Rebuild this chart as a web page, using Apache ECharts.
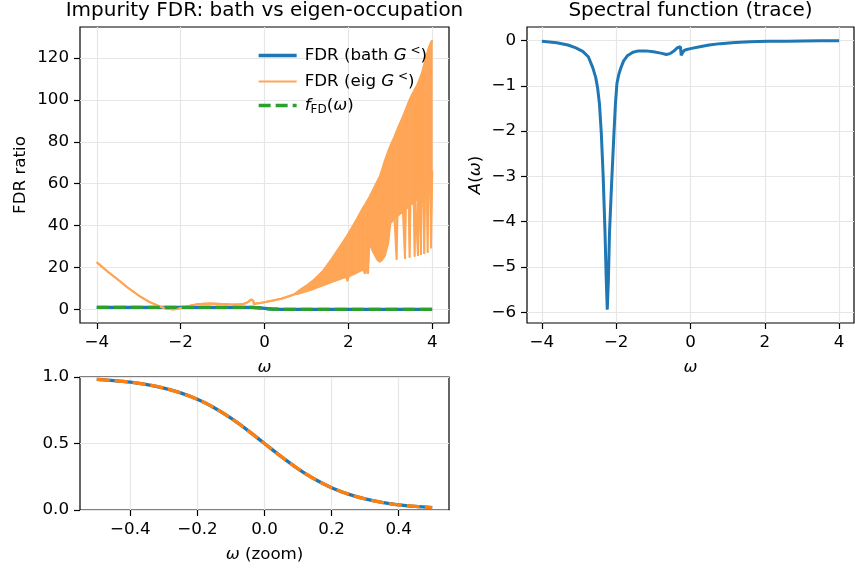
<!DOCTYPE html>
<html><head><meta charset="utf-8">
<script src="https://cdn.jsdelivr.net/npm/echarts@6/dist/echarts.min.js"></script>
<style>html,body{margin:0;padding:0;background:#fff}#c{width:855px;height:569px}</style>
</head><body><div id="c"></div>
<script>
// ---------- data ----------
const omegaEig = [-4.0,-3.75,-3.5,-3.25,-3.0,-2.75,-2.5,-2.35,-2.2,-2.05,-1.9,-1.75,-1.6,-1.45,-1.3,-1.15,-1.0,-0.85,-0.7,-0.55,-0.45,-0.38,-0.33,-0.3,-0.27,-0.25,-0.2,-0.1,0.0,0.2,0.4,0.6,0.7,
  0.8,0.9,1.0,1.2,1.4,1.6,1.8,1.95,1.98,2.01,2.2,2.35,2.4,2.44,2.47,2.5,2.6,2.7,2.75,2.8,2.87,2.95,3.0,3.1,3.13,3.15,3.17,3.3,3.33,3.35,3.37,3.44,3.46,3.48,3.56,3.58,3.6,3.64,3.66,3.68,3.71,3.73,3.75,3.79,3.81,3.83,3.87,3.89,3.91,3.95,3.97,4.0];
const eigLower = [22.5,18.2,14.3,10.2,6.6,3.6,1.4,0.4,0.0,0.3,1.1,1.9,2.4,2.7,2.8,2.7,2.6,2.4,2.3,2.4,2.9,3.7,4.6,5.1,4.2,2.4,2.8,3.1,3.4,4.2,5.1,6.4,7.1,
  7.4,8.0,8.6,10.0,11.5,13.0,14.5,15.5,13.5,15.8,17.5,19.0,17.0,19.5,17.0,32.0,27.0,23.5,22.8,23.5,25.6,31.6,41.0,43.5,44.0,23.7,44.5,47.0,47.5,24.2,48.0,49.0,24.8,50.0,51.0,25.2,51.5,52.0,25.6,53.0,55.0,26.0,57.0,58.5,26.5,59.0,60.0,27.0,61.0,64.0,29.2,66.0];
const eigUpper = [22.5,18.2,14.3,10.2,6.6,3.6,1.4,0.4,0.0,0.3,1.1,1.9,2.4,2.7,2.8,2.7,2.6,2.4,2.3,2.4,2.9,3.7,4.6,5.1,4.2,2.4,2.8,3.1,3.4,4.2,5.1,6.4,7.1,
  8.6,10.0,11.3,14.5,18.5,24.0,30.0,34.5,35.5,36.5,43.0,48.5,50.0,51.5,52.5,53.5,57.5,61.5,63.5,66.5,71.0,75.5,78.0,82.5,84.0,85.0,86.0,92.0,93.5,94.5,95.5,99.0,100.0,101.0,104.0,105.0,105.5,107.0,108.0,109.0,110.5,111.5,112.5,115.5,117.0,118.5,121.5,123.0,124.5,126.5,127.5,128.5];

const omegaBath = [-4,-3,-2,-1,-0.6,-0.5,-0.4,-0.3,-0.2,-0.1,0,0.1,0.2,0.3,0.4,0.5,0.6,1,2,3,4];
const fdrBath   = [1.0,1.0,1.0,0.99,0.99,0.98,0.96,0.92,0.83,0.69,0.5,0.31,0.17,0.08,0.04,0.02,0.01,0.0,0.0,0.0,0.0];
const fFD       = [1.0,1.0,1.0,0.99,0.99,0.98,0.96,0.92,0.83,0.69,0.5,0.31,0.17,0.08,0.04,0.02,0.01,0.0,0.0,0.0,0.0];

const omegaA = [-4.0,-3.6,-3.3,-3.1,-2.9,-2.75,-2.63,-2.55,-2.5,-2.45,-2.4,-2.35,-2.3,-2.27,-2.24,-2.21,-2.18,-2.12,-2.06,-2.02,-1.98,-1.93,-1.88,-1.8,-1.7,-1.55,-1.4,-1.2,-1.0,-0.8,-0.65,-0.55,-0.43,-0.35,-0.3,-0.27,-0.25,-0.22,-0.17,-0.1,0.0,0.25,0.5,0.8,1.2,1.6,2.1,2.6,3.0,3.5,4.0];
const specA  = [-0.02,-0.05,-0.1,-0.16,-0.24,-0.36,-0.6,-0.82,-1.05,-1.4,-2.05,-3.0,-4.25,-5.2,-5.94,-5.3,-4.25,-3.1,-2.05,-1.4,-0.95,-0.75,-0.62,-0.45,-0.34,-0.26,-0.23,-0.23,-0.25,-0.28,-0.31,-0.29,-0.22,-0.16,-0.13,-0.14,-0.33,-0.28,-0.22,-0.2,-0.18,-0.14,-0.1,-0.07,-0.045,-0.03,-0.02,-0.015,-0.01,-0.006,-0.004];

const omegaZoom = [-0.5,-0.45,-0.4,-0.35,-0.3,-0.25,-0.2,-0.15,-0.1,-0.05,0,0.05,0.1,0.15,0.2,0.25,0.3,0.35,0.4,0.45,0.5];
const fdrZoom   = [0.982,0.973,0.961,0.943,0.917,0.881,0.832,0.769,0.690,0.599,0.500,0.401,0.310,0.231,0.168,0.119,0.083,0.057,0.039,0.027,0.018];
const fdZoom    = [0.982,0.973,0.961,0.943,0.917,0.881,0.832,0.769,0.690,0.599,0.500,0.401,0.310,0.231,0.168,0.119,0.083,0.057,0.039,0.027,0.018];

const yTicksFDR  = [0,20,40,60,80,100,120];
const xTicksOmega = [-4,-2,0,2,4];
const yTicksA    = [-6,-5,-4,-3,-2,-1,0];
const xTicksZoom = [-0.4,-0.2,0,0.2,0.4];
const yTicksZoom = [0,0.5,1.0];

// ---------- chart ----------
const FONT = 'DejaVu Sans';
const FS = 16.7;
const BLUE = '#1f77b4', ORANGE_L = '#ffa556', ORANGE = '#ff7f0e', GREEN = '#2ca02c';
const zip = (xs, ys) => xs.map((x, i) => [x, ys[i]]);
const fmt = dec => v => (dec ? v.toFixed(dec) : String(Math.round(v))).replace('-', '\u2212');
const rich = {
  i: {fontFamily: FONT, fontSize: FS, fontStyle: 'italic', color: '#000'},
  sup: {fontFamily: FONT, fontSize: 12, color: '#000', padding: [0, 0, 9, 0]},
  sub: {fontFamily: FONT, fontSize: 12, color: '#000', padding: [8, 0, 0, 0]},
  n: {fontFamily: FONT, fontSize: FS, color: '#000'}
};
function vAxis(gi, min, max, ticks, dec, name, nameGap) {
  return {
    type: 'value', gridIndex: gi, min: min, max: max,
    axisLine: {show: false, onZero: false},
    axisTick: {show: true, length: 6, customValues: ticks, lineStyle: {color: '#000', width: 1.2}},
    axisLabel: {customValues: ticks, formatter: fmt(dec), color: '#000', fontFamily: FONT, fontSize: FS, margin: 11},
    splitLine: {show: true, lineStyle: {color: '#e6e6e6', width: 1.2}},
    name: name || '', nameLocation: 'middle', nameGap: nameGap || 0,
    nameTextStyle: {fontFamily: FONT, fontSize: FS, color: '#000', rich: rich}
  };
}
const gridBase = {show: true, borderColor: '#000', borderWidth: 1.2, backgroundColor: 'transparent', containLabel: false};
const LEG = {
  'FDR (bath G<)': '{n|FDR (bath }{i|G}{sup| <}{n|)}',
  'FDR (eig G<)': '{n|FDR (eig }{i|G}{sup| <}{n|)}',
  'f_FD': '{i|f}{sub|FD}{n|(}{i|ω}{n|)}'
};
// band segments between the lower and upper envelope of the eig FDR curve
const bandSegs = omegaEig.slice(0, -1).map((x, i) =>
  [x, eigLower[i], eigUpper[i], omegaEig[i + 1], eigLower[i + 1], eigUpper[i + 1]]);

const option = {
  animation: false,
  backgroundColor: '#fff',
  title: [
    {text: 'Impurity FDR: bath vs eigen-occupation', left: 264.5, textAlign: 'center', top: 1, padding: 0,
     textStyle: {fontFamily: FONT, fontSize: 20, fontWeight: 'normal', color: '#000'}},
    {text: 'Spectral function (trace)', left: 690.5, textAlign: 'center', top: 1, padding: 0,
     textStyle: {fontFamily: FONT, fontSize: 20, fontWeight: 'normal', color: '#000'}}
  ],
  grid: [
    Object.assign({left: 80, top: 27, width: 369, height: 296}, gridBase),
    Object.assign({left: 527, top: 27, width: 327, height: 296}, gridBase),
    Object.assign({left: 80, top: 377, width: 369, height: 133}, gridBase)
  ],
  xAxis: [
    vAxis(0, -4.4, 4.4, xTicksOmega, 0, '{i|ω}', 36),
    vAxis(1, -4.4, 4.4, xTicksOmega, 0, '{i|ω}', 36),
    vAxis(2, -0.55, 0.55, xTicksZoom, 1, '{i|ω}{n| (zoom)}', 36)
  ],
  yAxis: [
    vAxis(0, -6.5, 134.8, yTicksFDR, 0, 'FDR ratio', 51),
    vAxis(1, -6.235, 0.297, yTicksA, 0, '{i|A}{n|(}{i|ω}{n|)}', 43),
    vAxis(2, 0, 1, yTicksZoom, 1, '', 0)
  ],
  legend: {
    data: [
      {name: 'FDR (bath G<)', lineStyle: {width: 3.3}},
      {name: 'FDR (eig G<)', lineStyle: {width: 2}},
      {name: 'f_FD', lineStyle: {width: 3.3, type: [12, 5]}}
    ],
    orient: 'vertical', left: 252, top: 40, itemWidth: 38, itemHeight: 20, itemGap: 7,
    selectedMode: false, formatter: n => LEG[n],
    itemStyle: {opacity: 0},
    textStyle: {fontFamily: FONT, fontSize: FS, color: '#000', padding: [0, 0, 0, 3], rich: rich}
  },
  series: [
    {type: 'line', name: 'FDR (bath G<)', xAxisIndex: 0, yAxisIndex: 0, data: zip(omegaBath, fdrBath),
     symbol: 'none', showSymbol: false, lineStyle: {color: BLUE, width: 3.3}, itemStyle: {color: BLUE}},
    {type: 'custom', name: 'eigBand', xAxisIndex: 0, yAxisIndex: 0, clip: true, data: bandSegs,
     encode: {x: [0, 3], y: [1, 2, 4, 5]},
     renderItem: function (params, api) {
       const p1 = api.coord([api.value(0), api.value(1)]);
       const p2 = api.coord([api.value(0), api.value(2)]);
       const p3 = api.coord([api.value(3), api.value(5)]);
       const p4 = api.coord([api.value(3), api.value(4)]);
       return {type: 'polygon', shape: {points: [p1, p2, p3, p4]},
               style: {fill: ORANGE_L, stroke: ORANGE_L, lineWidth: 0.8}};
     }},
    {type: 'line', name: 'eigLower', xAxisIndex: 0, yAxisIndex: 0,
     data: zip(omegaEig, eigLower), symbol: 'none', showSymbol: false, lineStyle: {color: ORANGE_L, width: 2}, itemStyle: {color: ORANGE_L}},
    {type: 'line', name: 'FDR (eig G<)', xAxisIndex: 0, yAxisIndex: 0,
     data: zip(omegaEig, eigUpper), symbol: 'none', showSymbol: false,
     lineStyle: {color: ORANGE_L, width: 2}, itemStyle: {color: ORANGE_L}},
    {type: 'line', name: 'f_FD', xAxisIndex: 0, yAxisIndex: 0, data: zip(omegaBath, fFD),
     symbol: 'none', showSymbol: false, lineStyle: {color: GREEN, width: 3.3, type: [12, 5]}, itemStyle: {color: GREEN}},
    {type: 'line', name: 'A', xAxisIndex: 1, yAxisIndex: 1, data: zip(omegaA, specA),
     symbol: 'none', lineStyle: {color: BLUE, width: 3}, itemStyle: {color: BLUE}},
    {type: 'line', name: 'zoomBath', xAxisIndex: 2, yAxisIndex: 2, data: zip(omegaZoom, fdrZoom), smooth: 0.3,
     symbol: 'none', lineStyle: {color: BLUE, width: 3.3}, itemStyle: {color: BLUE}},
    {type: 'line', name: 'zoomFD', xAxisIndex: 2, yAxisIndex: 2, data: zip(omegaZoom, fdZoom), smooth: 0.3,
     symbol: 'none', lineStyle: {color: ORANGE, width: 3.3, type: [13, 5]}, itemStyle: {color: ORANGE}}
  ]
};
const chart = echarts.init(document.getElementById('c'), null, {renderer: 'canvas'});
chart.setOption(option);
</script>
</body></html>
